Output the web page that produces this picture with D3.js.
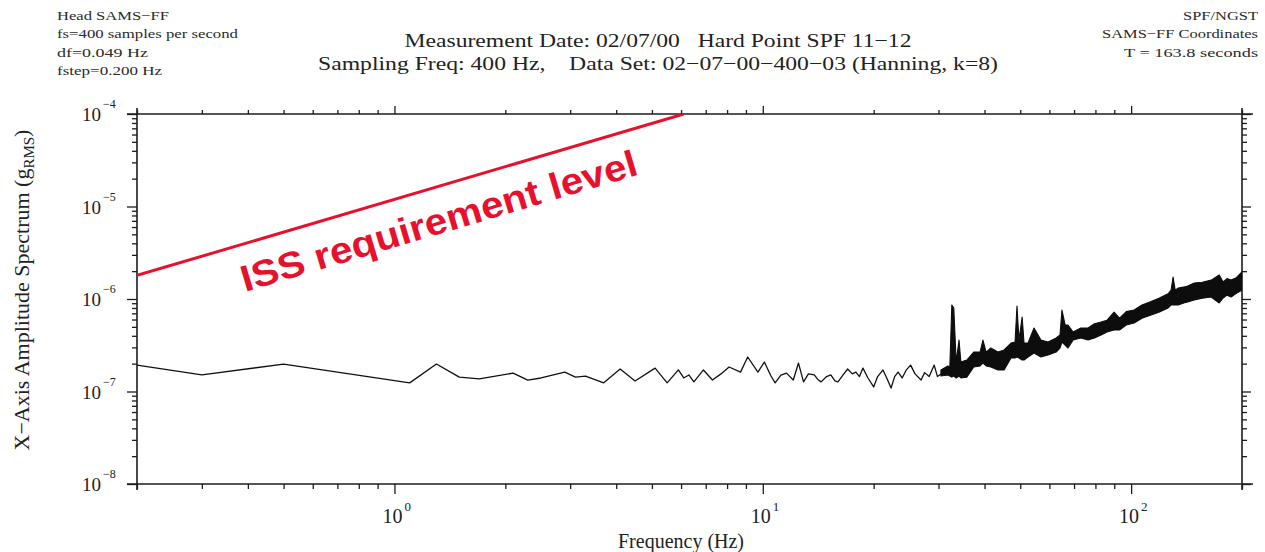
<!DOCTYPE html>
<html>
<head>
<meta charset="utf-8">
<script src="https://cdn.jsdelivr.net/npm/d3@7"></script>
<style>
  body { margin: 0; background: #fff; }
  svg { display: block; }
  text { white-space: pre; }
</style>
</head>
<body>
<svg id="chart" width="1265" height="552"></svg>
<script>
// amplitudes below are in units of 1e-7 g rms
const AMP_UNIT = 1e-7

// sparse part of the spectrum (one vertex per visible wiggle)
const lowFreq = [0.2, 0.3, 0.5, 1.1, 1.3, 1.5, 1.7, 2.1, 2.3, 2.5, 2.9, 3.1, 3.3, 3.7, 4.1, 4.5,
  5.1, 5.5, 5.9, 6.1, 6.3, 6.5, 6.9, 7.3, 7.7, 8.1, 8.7, 9.1, 9.7, 10.1, 10.5, 10.8, 11.2, 11.6,
  12.1, 12.5, 12.9, 13.3, 13.8, 14.1, 14.4, 14.9, 15.3, 15.7, 16.0, 16.5, 17.0, 17.5, 17.9, 18.3,
  18.7, 19.3, 20.0, 20.5, 21.2, 21.7, 22.3, 22.8, 23.3, 23.9, 24.5, 25.2, 25.9, 26.9, 27.5, 28.3,
  29.2, 29.8, 30.45]
const lowAmp = [1.93, 1.51, 1.98, 1.24, 1.98, 1.43, 1.37, 1.58, 1.33, 1.40, 1.62, 1.43, 1.47, 1.24, 1.75, 1.30,
  1.79, 1.24, 1.71, 1.40, 1.51, 1.27, 1.71, 1.33, 1.55, 1.84, 1.62, 2.36, 1.62, 2.08, 1.50, 1.24, 1.50, 1.58,
  1.33, 2.03, 1.27, 1.55, 1.51, 1.35, 1.27, 1.45, 1.51, 1.30, 1.27, 1.50, 1.75, 1.55, 1.62, 1.45,
  1.79, 1.40, 1.12, 1.45, 1.71, 1.40, 1.09, 1.45, 1.62, 1.40, 1.70, 1.93, 1.55, 1.33, 1.60, 1.45,
  1.93, 1.45, 1.55]

// dense part above ~30 Hz: the trace fills a band, kept as lower / upper edge
const bandFreq = [30.45, 31.8, 32.2, 32.6, 33.0, 33.5, 34.1, 34.5, 35.8, 37.4, 38.9, 39.6, 40.4, 41.6,
  43.5, 45.2, 47.2, 48.4, 49.0, 49.6, 50.6, 51.2, 52.5, 54.5, 56.9, 59.5, 62.6, 64.1, 64.9, 66.2,
  67.4, 69.6, 73.0, 76.4, 79.5, 82.9, 86.0, 89.9, 93.0, 97.0, 101.9, 107.0, 113.3, 119.0, 126.0,
  128.4, 130.0, 131.7, 134.2, 141.0, 148.4, 156.0, 165.0, 173.4, 177.8, 182.0, 186.9, 193.0, 200]
const bandLo = [1.47, 1.51, 1.47, 1.43, 1.47, 1.40, 1.47, 1.40, 1.43, 1.84, 1.89, 2.03, 1.89, 1.84,
  1.71, 1.71, 2.30, 2.30, 2.36, 2.30, 2.19, 2.19, 2.36, 2.61, 2.36, 2.48, 2.67, 2.95, 3.43, 3.18,
  2.95, 3.60, 3.79, 3.60, 3.79, 4.08, 4.40, 4.62, 4.62, 5.24, 5.50, 6.20, 6.71, 7.20, 8.00,
  8.61, 8.61, 8.61, 8.61, 9.20, 9.75, 10.2, 10.5, 9.05, 10.25, 11.0, 10.5, 11.5, 12.5]
const bandHi = [1.71, 1.89, 1.84, 8.61, 7.99, 2.08, 3.60, 2.08, 2.19, 2.67, 2.67, 3.60, 2.67, 2.95,
  2.67, 2.81, 3.34, 3.43, 8.40, 3.60, 6.39, 3.34, 3.34, 4.86, 3.60, 3.43, 3.79, 4.08, 7.60, 5.24,
  5.24, 4.40, 4.86, 4.86, 5.40, 5.64, 5.90, 7.20, 6.20, 7.30, 7.60, 8.60, 9.40, 10.2, 11.4,
  12.5, 17.3, 12.5, 13.1, 13.6, 14.9, 15.2, 16.0, 18.2, 15.3, 16.6, 16.0, 17.0, 19.6]

// ISS requirement line (two ends, g rms)
const issFreq = [0.2, 6.1]
const issAmp = [1.8e-6, 1e-4]

const headerLeft = ["Head SAMS\u2212FF", "fs=400 samples per second", "df=0.049 Hz", "fstep=0.200 Hz"]
const headerRight = ["SPF/NGST", "SAMS\u2212FF Coordinates", "T = 163.8 seconds"]
const titleLines = ["Measurement Date: 02/07/00   Hard Point SPF 11\u221212",
  "Sampling Freq: 400 Hz,    Data Set: 02\u221207\u221200\u2212400\u221203 (Hanning, k=8)"]
const xDecades = [0, 1, 2]
const yDecades = [-8, -7, -6, -5, -4]

/*************** layout *********************/
const plot = {left: 137, right: 1242, top: 114, bottom: 484}
const serif = "'Liberation Serif', 'Times New Roman', serif"
const sans = "'Liberation Sans', Arial, sans-serif"
const ink = "#1c1c1c"
const red = "#e8112d"

const svg = d3.select("#chart")

const x = d3.scaleLog().domain([0.2, 200]).range([plot.left, plot.right])
const y = d3.scaleLog().domain([1e-8, 1e-4]).range([plot.bottom, plot.top])

/*************** header text *********************/
const leftWidths = [112, 181, 91, 105]
svg.append("g").selectAll("text")
  .data(headerLeft)
  .join("text")
    .attr("x", 57)
    .attr("y", (d, i) => 20 + i * 18.3)
    .attr("font-family", serif)
    .attr("font-size", 13.5)
    .attr("fill", "#2a2a2a")
    .attr("textLength", (d, i) => leftWidths[i])
    .attr("lengthAdjust", "spacingAndGlyphs")
    .text(d => d)

const rightWidths = [75, 156, 134]
svg.append("g").selectAll("text")
  .data(headerRight)
  .join("text")
    .attr("x", (d, i) => 1258 - rightWidths[i])
    .attr("y", (d, i) => 20 + i * 18.3)
    .attr("font-family", serif)
    .attr("font-size", 13.5)
    .attr("fill", "#2a2a2a")
    .attr("textLength", (d, i) => rightWidths[i])
    .attr("lengthAdjust", "spacingAndGlyphs")
    .text(d => d)

const titleWidths = [507, 680]
svg.append("g").selectAll("text")
  .data(titleLines)
  .join("text")
    .attr("x", (d, i) => 658 - titleWidths[i] / 2)
    .attr("y", (d, i) => 47 + i * 23)
    .attr("font-family", serif)
    .attr("font-size", 19.5)
    .attr("fill", "#222")
    .attr("textLength", (d, i) => titleWidths[i])
    .attr("lengthAdjust", "spacingAndGlyphs")
    .text(d => d)

/*************** axes *********************/
const isDecade = v => Math.abs(Math.log10(v) - Math.round(Math.log10(v))) < 1e-6
const xMinor = x.ticks().filter(v => !isDecade(v))
const xMajor = xDecades.map(p => Math.pow(10, p))
const yMinor = y.ticks().filter(v => !isDecade(v))
const yMajor = yDecades.map(p => Math.pow(10, p))

function tickAxis(axis, values, size, tx, ty){
  svg.append("g")
    .attr("transform", `translate(${tx},${ty})`)
    .call(axis.tickValues(values).tickSize(size).tickSizeOuter(0).tickFormat(""))
    .call(g => g.select(".domain").remove())
    .call(g => g.selectAll(".tick line").attr("stroke", ink).attr("stroke-width", 1.3))
}
tickAxis(d3.axisBottom(x), xMinor, 5, 0, plot.bottom)
tickAxis(d3.axisBottom(x), xMajor, 10, 0, plot.bottom)
tickAxis(d3.axisTop(x), xMinor, 4, 0, plot.top)
tickAxis(d3.axisTop(x), xMajor, 8, 0, plot.top)
tickAxis(d3.axisLeft(y), yMinor, 5, plot.left, 0)
tickAxis(d3.axisLeft(y), yMajor, 10, plot.left, 0)
tickAxis(d3.axisRight(y), yMinor, 5, plot.right, 0)
tickAxis(d3.axisRight(y), yMajor, 9, plot.right, 0)

// frame, lines run a little past the corners as in the original plot
const frame = svg.append("g").attr("stroke", ink).attr("stroke-width", 1.6)
frame.append("line").attr("x1", plot.left - 10).attr("x2", plot.right + 11)
  .attr("y1", plot.bottom).attr("y2", plot.bottom)
frame.append("line").attr("x1", plot.left - 10).attr("x2", plot.right + 11)
  .attr("y1", plot.top).attr("y2", plot.top)
frame.append("line").attr("x1", plot.left).attr("x2", plot.left)
  .attr("y1", plot.top - 6).attr("y2", plot.bottom + 6)
frame.append("line").attr("x1", plot.right).attr("x2", plot.right)
  .attr("y1", plot.top - 6).attr("y2", plot.bottom + 6)

// tick labels with superscript exponents
const yLab = svg.append("g").attr("font-family", serif).attr("fill", "#222")
yDecades.forEach(p => {
  const yy = y(Math.pow(10, p))
  yLab.append("text").attr("x", 101).attr("y", yy + 7)
    .attr("text-anchor", "end").attr("font-size", 19).text("10")
  yLab.append("text").attr("x", 103).attr("y", yy - 6)
    .attr("font-size", 12).text("\u2212" + Math.abs(p))
})
const xLab = svg.append("g").attr("font-family", serif).attr("fill", "#222")
xDecades.forEach(p => {
  const xx = x(Math.pow(10, p))
  xLab.append("text").attr("x", xx + 8).attr("y", 523)
    .attr("text-anchor", "end").attr("font-size", 20).text("10")
  xLab.append("text").attr("x", xx + 10).attr("y", 511)
    .attr("font-size", 13).text(String(p))
})

// axis titles
svg.append("text")
  .attr("x", 681).attr("y", 548)
  .attr("text-anchor", "middle")
  .attr("font-family", serif).attr("font-size", 20).attr("fill", "#222")
  .text("Frequency (Hz)")

const yTitle = svg.append("text")
  .attr("transform", "translate(29,290) rotate(-90)")
  .attr("text-anchor", "middle")
  .attr("font-family", serif).attr("font-size", 22).attr("fill", "#222")
yTitle.append("tspan").text("X\u2212Axis Amplitude Spectrum (g")
yTitle.append("tspan").attr("font-size", 15).attr("dy", 5).text("RMS")
yTitle.append("tspan").attr("dy", -5).text(")")

/*************** data *********************/
svg.append("clipPath").attr("id", "plotclip")
  .append("rect")
    .attr("x", plot.left).attr("y", plot.top)
    .attr("width", plot.right - plot.left).attr("height", plot.bottom - plot.top)

const marks = svg.append("g").attr("clip-path", "url(#plotclip)")

const lowData = lowFreq.map((f, i) => ({f: f, a: lowAmp[i] * AMP_UNIT}))
marks.append("path")
  .datum(lowData)
  .attr("fill", "none")
  .attr("stroke", "#111")
  .attr("stroke-width", 1.3)
  .attr("stroke-linejoin", "round")
  .attr("d", d3.line().x(d => x(d.f)).y(d => y(d.a)))

const bandData = bandFreq.map((f, i) => ({f: f, lo: bandLo[i] * AMP_UNIT, hi: bandHi[i] * AMP_UNIT}))
marks.append("path")
  .datum(bandData)
  .attr("fill", "#0d0d0d")
  .attr("stroke", "#0d0d0d")
  .attr("stroke-width", 1.1)
  .attr("stroke-linejoin", "round")
  .attr("d", d3.area().x(d => x(d.f)).y0(d => y(d.lo)).y1(d => y(d.hi)))

// ISS requirement line and label
const issData = issFreq.map((f, i) => ({f: f, a: issAmp[i]}))
marks.append("path")
  .datum(issData)
  .attr("fill", "none")
  .attr("stroke", red)
  .attr("stroke-width", 3)
  .attr("d", d3.line().x(d => x(d.f)).y(d => y(d.a)))

svg.append("text")
  .attr("transform", "translate(245,292) rotate(-16.6)")
  .attr("font-family", sans)
  .attr("font-weight", "bold")
  .attr("font-size", 37)
  .attr("fill", red)
  .attr("textLength", 412)
  .attr("lengthAdjust", "spacingAndGlyphs")
  .text("ISS requirement level")
</script>
</body>
</html>
